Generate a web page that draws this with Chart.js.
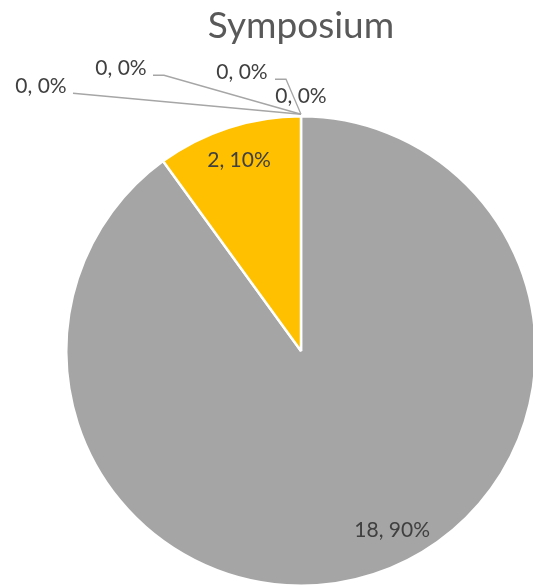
<!DOCTYPE html>
<html>
<head>
<meta charset="utf-8">
<script src="https://cdn.jsdelivr.net/npm/chart.js@4.4.0/dist/chart.umd.min.js"></script>
<style>
  html, body { margin: 0; padding: 0; background: #fff; overflow: hidden; }
  #wrap { position: absolute; left: 0; top: 0; width: 540px; height: 587px; }
</style>
</head>
<body>
<div id="wrap"><canvas id="myChart" width="540" height="587"></canvas></div>
<script>
var chartTitle = 'Symposium';
var categories = ['Category 1', 'Category 2', 'Category 3', 'Category 4', 'Category 5', 'Category 6'];
var values = [0, 0, 18, 2, 0, 0];
var colors = ['#4472C4', '#ED7D31', '#A5A5A5', '#FFC000', '#5B9BD5', '#70AD47'];

// where the zero labels sit, relative to the point at the top of the pie
var zeroLabelOffsets = [
    { dx: -260, dy: -30, line: [[-228, -23]] },
    { dx: -180, dy: -48, line: [[-148, -41], [-137, -41]] },
    { dx: -59, dy: -44, line: [[-26, -37], [-15, -37]] },
    { dx: 0, dy: -20, line: [] }
];

var total = values.reduce(function (a, b) { return a + b; }, 0);

var labelPlugin = {
    id: 'sliceLabels',
    afterDraw: function (chart) {
        var ctx = chart.ctx;
        var meta = chart.getDatasetMeta(0);
        ctx.save();
        // title
        ctx.font = '37px Lato';
        ctx.fillStyle = '#595959';
        ctx.textAlign = 'center';
        ctx.textBaseline = 'middle';
        var cx = (chart.chartArea.left + chart.chartArea.right) / 2;
        ctx.fillText(chartTitle, cx, 26);

        ctx.font = '21px Lato';
        ctx.fillStyle = '#404040';
        var z = 0;
        meta.data.forEach(function (arc, i) {
            var p = arc.getProps(['x', 'y', 'startAngle', 'endAngle', 'outerRadius'], true);
            var text = values[i] + ', ' + Math.round(values[i] / total * 100) + '%';
            if (values[i] > 0) {
                var mid = (p.startAngle + p.endAngle) / 2;
                if (values[i] / total > 0.5) mid -= 9 * Math.PI / 180;
                var r = p.outerRadius * 0.855;
                ctx.fillText(text, p.x + Math.cos(mid) * r, p.y + Math.sin(mid) * r);
            } else {
                var ox = p.x + Math.cos(p.startAngle) * p.outerRadius;
                var oy = p.y + Math.sin(p.startAngle) * p.outerRadius;
                var o = zeroLabelOffsets[z % zeroLabelOffsets.length];
                z++;
                if (o.line.length) {
                    ctx.strokeStyle = '#A6A6A6';
                    ctx.lineWidth = 1.3;
                    ctx.beginPath();
                    ctx.moveTo(ox + o.line[0][0], oy + o.line[0][1]);
                    for (var k = 1; k < o.line.length; k++) ctx.lineTo(ox + o.line[k][0], oy + o.line[k][1]);
                    ctx.lineTo(ox, oy - 2);
                    ctx.stroke();
                }
                ctx.fillText(text, ox + o.dx, oy + o.dy);
            }
        });
        ctx.restore();
    }
};

var ctx = document.getElementById('myChart').getContext('2d');
var myChart = new Chart(ctx, {
    type: 'pie',
    data: {
        labels: categories,
        datasets: [{
            data: values,
            backgroundColor: colors,
            borderColor: '#ffffff',
            borderWidth: 2.5
        }]
    },
    options: {
        responsive: false,
        animation: false,
        layout: { padding: { left: 64, right: 2, top: 115, bottom: 0 } },
        plugins: {
            legend: { display: false },
            tooltip: { enabled: false },
            title: { display: false }
        }
    },
    plugins: [labelPlugin]
});
</script>
</body>
</html>
